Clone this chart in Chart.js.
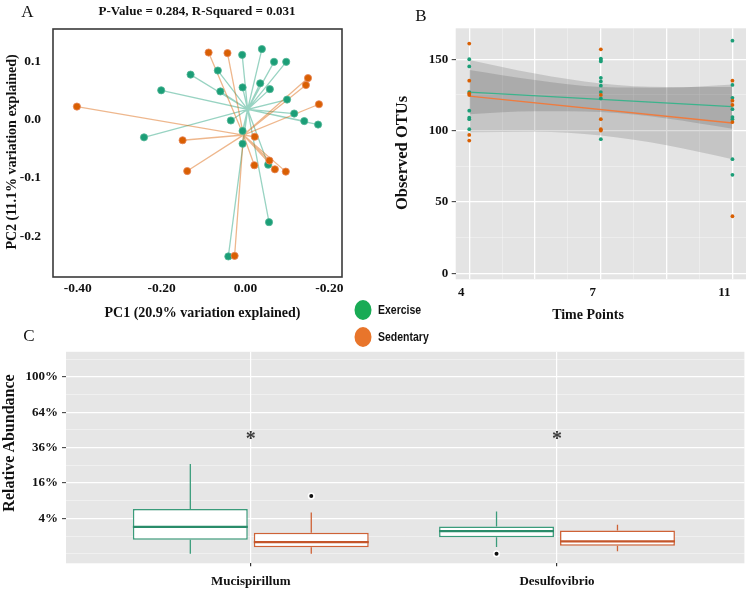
<!DOCTYPE html>
<html>
<head>
<meta charset="utf-8">
<script src="https://cdn.jsdelivr.net/npm/chart.js@4.4.0/dist/chart.umd.min.js"></script>
<style>
  html, body { margin: 0; padding: 0; background: #fff; }
  #fig { position: relative; width: 750px; height: 591px; overflow: hidden;
         font-family: 'Liberation Serif', 'Times New Roman', Times, serif; color: #111; }
  #fig canvas { position: absolute; }
  .lbl { position: absolute; white-space: nowrap; line-height: 1; transform: translate(-50%, -50%); }
  .rot { transform: translate(-50%, -50%) rotate(-90deg); }
  .b { font-weight: bold; }
  .tag { font-size: 17px; }
  .key { position: absolute; width: 17px; height: 20px; border-radius: 50%; transform: translate(-50%, -50%); }
  .keytxt { position: absolute; line-height: 1; white-space: nowrap; transform-origin: left center;
            transform: translateY(-50%) scaleX(0.84); font-weight: bold; font-size: 12.5px;
            font-family: 'Liberation Sans Narrow', 'Liberation Sans', Arial, sans-serif; }
</style>
</head>
<body>
<div id="fig">
  <canvas id="chartA" width="350" height="330" style="left:0;top:0"></canvas>
  <canvas id="chartB" width="370" height="330" style="left:380px;top:0"></canvas>
  <canvas id="chartC" width="750" height="251" style="left:0;top:340px"></canvas>

  <div class="lbl tag" style="left:27.5px;top:11px">A</div>
  <div class="lbl b" style="left:197px;top:10px;font-size:13px">P-Value = 0.284, R-Squared = 0.031</div>
  <div class="lbl b rot" style="left:12px;top:152px;font-size:14px">PC2 (11.1% variation explained)</div>
  <div class="lbl b" style="left:202.5px;top:313px;font-size:14px">PC1 (20.9% variation explained)</div>

  <div class="lbl tag" style="left:421px;top:15px">B</div>
  <div class="lbl b rot" style="left:402px;top:153px;font-size:16.5px">Observed OTUs</div>
  <div class="lbl b" style="left:588px;top:315px;font-size:14px">Time Points</div>

  <div class="lbl tag" style="left:29px;top:334.5px">C</div>
  <div class="lbl b rot" style="left:9px;top:442.5px;font-size:16px">Relative Abundance</div>

  <div class="key" style="left:363px;top:310px;background:#19ab55"></div>
  <div class="keytxt" style="left:378px;top:310px">Exercise</div>
  <div class="key" style="left:363px;top:336.5px;background:#e8752b"></div>
  <div class="keytxt" style="left:378px;top:336.5px">Sedentary</div>
</div>

<script>
// ---------- data ----------
// A: PCoA, one point per sample, spokes to the group centroid
const pcaExerciseX = [-0.008, 0.039, 0.068, 0.097, -0.131, -0.066, -0.201, -0.060, -0.007, 0.035, 0.058,
                      0.099, 0.116, 0.140, 0.173, -0.035, -0.242, -0.007, -0.007, 0.054, 0.056, -0.041];
const pcaExerciseY = [0.112, 0.122, 0.100, 0.100, 0.078, 0.085, 0.051, 0.049, 0.056, 0.063, 0.053,
                      0.035, 0.011, -0.002, -0.008, -0.001, -0.030, -0.019, -0.041, -0.077, -0.176, -0.235];
const pcaSedentaryX = [-0.088, -0.043, -0.402, 0.149, 0.144, 0.175, -0.150, -0.139, 0.022, 0.021, 0.057, 0.070, 0.096, -0.026];
const pcaSedentaryY = [0.116, 0.115, 0.023, 0.072, 0.060, 0.027, -0.035, -0.088, -0.029, -0.078, -0.070, -0.085, -0.089, -0.234];
const exerciseCentroid = [0.005, 0.018];
const sedentaryCentroid = [-0.005, -0.026];
const pcaXTicks = [-0.4, -0.2, 0, 0.2];
const pcaXTickLabels = ['-0.40', '-0.20', '0.00', '-0.20'];
const pcaYTicks = [-0.2, -0.1, 0, 0.1];

// B: observed OTUs per time point
const timeLabels = ['4', '7', '11'];
const timePositions = [1, 2, 3];
const timeGrid = [1, 1.25, 1.5, 1.75, 2, 2.25, 2.5, 2.75, 3];
const otuGrid = [0, 25, 50, 75, 100, 125, 150];
const otuExercise = [
  [150, 145, 127, 114, 109, 108, 101],
  [150.5, 149.5, 148.5, 137, 134.5, 131.5, 127, 122.5, 94],
  [163, 132, 123, 115, 109.5, 108, 80, 69]
];
const otuSedentary = [
  [161, 135, 126, 125, 97, 93],
  [157, 125, 108, 101, 100],
  [135, 121, 118, 106, 40]
];
const fitExercise = [127, 116.8];
const fitSedentary = [124.2, 105.3];
const ciPositions = [1, 1.5, 2, 2.5, 3];
const ciExerciseUpper = [142.5, 135.5, 130.5, 130, 132.3];
const ciExerciseLower = [111.5, 113.5, 113, 108.5, 101.3];
const ciSedentaryUpper = [149.5, 140, 133, 130.5, 130.6];
const ciSedentaryLower = [98.9, 99.2, 96.5, 89.7, 80];

// C: relative abundance (percent), sqrt axis
const genera = ['Mucispirillum', 'Desulfovibrio'];
const exMin = [0, 0.14], exQ1 = [0.63, 0.88], exMed = [2.3, 1.62], exQ3 = [6.4, 2.36], exMax = [25.7, 5.7];
const sedMin = [0, 0.02], sedQ1 = [0.13, 0.21], sedMed = [0.43, 0.49], sedQ3 = [1.4, 1.72], sedMax = [5.45, 2.7];
const exOutliers = [[], [0]];
const sedOutliers = [[10.6], []];
const signifPct = [44, 44];
const abundanceGridPct = [0, 1, 4, 9, 16, 25, 36, 49, 64, 81, 100, 121];
const abundanceLabelPct = [4, 16, 36, 64, 100];

// ---------- helpers ----------
const GREEN = '#1b9e77', ORANGE = '#d95f02';
const SERIF = "'Liberation Serif', 'Times New Roman', Times, serif";
const tickFont = size => ({ family: SERIF, size: size, weight: 'bold' });
const fixW = w => s => { s.width = w; };
const fixH = h => s => { s.height = h; };
const setTicks = vals => s => { s.ticks = vals.map(v => ({ value: v })); };
const xy = (xs, ys) => xs.map((x, i) => ({ x: x, y: ys[i] }));
const spokes = (xs, ys, c) => xs.flatMap((x, i) => [{ x: x, y: ys[i] }, { x: c[0], y: c[1] }]);
const toS = p => Math.sqrt(p / 100);

const panelBg = color => ({
  id: 'panelBg',
  beforeDraw(c) {
    const a = c.chartArea;
    c.ctx.save();
    c.ctx.fillStyle = color;
    c.ctx.fillRect(a.left, a.top, a.width, a.height);
    c.ctx.restore();
  }
});

const frame = {
  id: 'frame',
  afterDraw(c) {
    const a = c.chartArea;
    c.ctx.save();
    c.ctx.strokeStyle = '#3a3a3a';
    c.ctx.lineWidth = 1.6;
    c.ctx.strokeRect(a.left, a.top, a.width, a.height);
    c.ctx.restore();
  }
};

const base = {
  responsive: false,
  animation: false,
  plugins: { legend: { display: false }, tooltip: { enabled: false } }
};

// ---------- A ----------
new Chart(document.getElementById('chartA'), {
  type: 'scatter',
  data: {
    datasets: [
      { data: xy(pcaSedentaryX, pcaSedentaryY), backgroundColor: ORANGE, borderColor: '#e7875a',
        borderWidth: 0.8, pointRadius: 3.6, order: 0 },
      { data: xy(pcaExerciseX, pcaExerciseY), backgroundColor: GREEN, borderColor: '#52b595',
        borderWidth: 0.8, pointRadius: 3.6, order: 1 },
      { data: spokes(pcaSedentaryX, pcaSedentaryY, sedentaryCentroid), showLine: true, pointRadius: 0,
        borderColor: 'rgba(217,95,2,0.45)', borderWidth: 1.3, order: 2 },
      { data: spokes(pcaExerciseX, pcaExerciseY, exerciseCentroid), showLine: true, pointRadius: 0,
        borderColor: 'rgba(27,158,119,0.45)', borderWidth: 1.3, order: 3 }
    ]
  },
  options: {
    ...base,
    layout: { padding: { top: 29, right: 8, left: 0, bottom: 0 } },
    scales: {
      x: {
        type: 'linear', bounds: 'data', min: -0.459, max: 0.23,
        afterFit: fixH(53), afterBuildTicks: setTicks(pcaXTicks),
        grid: { display: false, drawTicks: false }, border: { display: false },
        ticks: { padding: 3, color: '#111', font: tickFont(13.5), autoSkip: false, maxRotation: 0,
                 callback: (v, i) => pcaXTickLabels[i] }
      },
      y: {
        type: 'linear', bounds: 'data', min: -0.2704, max: 0.1565,
        afterFit: fixW(53), afterBuildTicks: setTicks(pcaYTicks),
        grid: { display: false, drawTicks: false }, border: { display: false },
        ticks: { padding: 12, color: '#111', font: tickFont(13.5), autoSkip: false,
                 callback: v => v.toFixed(1) }
      }
    }
  },
  plugins: [frame]
});

// ---------- B ----------
const halfStep = v => Math.abs(v * 2 - Math.round(v * 2)) < 1e-6;
const fifty = v => Math.abs(v / 50 - Math.round(v / 50)) < 1e-6;
const otuPoints = groups => groups.flatMap((vals, i) => vals.map(v => ({ x: timePositions[i], y: v })));
const ends = [timePositions[0], timePositions[timePositions.length - 1]];

const dsB = [
  { data: otuPoints(otuSedentary), backgroundColor: ORANGE, borderWidth: 0, pointRadius: 1.9, order: 0 },
  { data: otuPoints(otuExercise), backgroundColor: GREEN, borderWidth: 0, pointRadius: 1.9, order: 1 },
  { type: 'line', data: xy(ends, fitSedentary), borderColor: '#ef7b3e', borderWidth: 1.4, pointRadius: 0, order: 2 },
  { type: 'line', data: xy(ends, fitExercise), borderColor: '#3bb38c', borderWidth: 1.4, pointRadius: 0, order: 3 },
  { type: 'line', data: xy(ciPositions, ciExerciseUpper), fill: 5, backgroundColor: 'rgba(40,38,38,0.16)',
    borderWidth: 0, pointRadius: 0, cubicInterpolationMode: 'monotone', order: 4 },
  { type: 'line', data: xy(ciPositions, ciExerciseLower), fill: false,
    borderWidth: 0, pointRadius: 0, cubicInterpolationMode: 'monotone', order: 5 },
  { type: 'line', data: xy(ciPositions, ciSedentaryUpper), fill: 7, backgroundColor: 'rgba(40,38,38,0.16)',
    borderWidth: 0, pointRadius: 0, cubicInterpolationMode: 'monotone', order: 6 },
  { type: 'line', data: xy(ciPositions, ciSedentaryLower), fill: false,
    borderWidth: 0, pointRadius: 0, cubicInterpolationMode: 'monotone', order: 7 }
];

new Chart(document.getElementById('chartB'), {
  type: 'scatter',
  data: { datasets: dsB },
  options: {
    ...base,
    layout: { padding: { top: 28.3, right: 2, left: 0, bottom: 0 } },
    scales: {
      x: {
        type: 'linear', bounds: 'data', min: 0.897, max: 3.103,
        afterFit: fixH(50.7), afterBuildTicks: setTicks(timeGrid),
        grid: { drawTicks: false,
                color: c => (c.tick && halfStep(c.tick.value)) ? '#ffffff' : 'rgba(255,255,255,0.6)',
                lineWidth: c => (c.tick && halfStep(c.tick.value)) ? 1.3 : 0.6 },
        border: { display: false },
        ticks: { padding: 6, labelOffset: -8, color: '#111', font: tickFont(13), autoSkip: false, maxRotation: 0,
                 callback: v => { const k = timePositions.indexOf(v); return k >= 0 ? timeLabels[k] : ''; } }
      },
      y: {
        type: 'linear', bounds: 'data', min: -4.2, max: 171.7,
        afterFit: fixW(75.7), afterBuildTicks: setTicks(otuGrid),
        grid: { drawTicks: true, tickLength: 4, tickWidth: 1,
                tickColor: c => (c.tick && fifty(c.tick.value)) ? '#333' : 'rgba(0,0,0,0)',
                color: c => (c.tick && fifty(c.tick.value)) ? '#ffffff' : 'rgba(255,255,255,0.6)',
                lineWidth: c => (c.tick && fifty(c.tick.value)) ? 1.3 : 0.6 },
        border: { display: false },
        ticks: { padding: 3.5, color: '#111', font: tickFont(13), autoSkip: false,
                 callback: v => fifty(v) ? String(v) : '' }
      }
    }
  },
  plugins: [panelBg('#e4e4e4')]
});

// ---------- C ----------
const DODGE = 0.79, BAR_FILL = 0.95;
const offEx = -DODGE / 4, offSed = DODGE / 4, halfBox = DODGE / 4 * BAR_FILL;

const boxes = (q1, q3) => genera.map((g, i) => ({ x: i + 1, y: [toS(q1[i]), toS(q3[i])] }));
const whiskers = (mn, q1, q3, mx, off) => genera.flatMap((g, i) => {
  const x = i + 1 + off;
  return [{ x: x, y: toS(mx[i]) }, { x: x, y: toS(q3[i]) }, { x: x, y: null },
          { x: x, y: toS(q1[i]) }, { x: x, y: toS(mn[i]) }, { x: x, y: null }];
});
const medians = (md, off) => genera.flatMap((g, i) => {
  const x = i + 1 + off;
  return [{ x: x - halfBox, y: toS(md[i]) }, { x: x + halfBox, y: toS(md[i]) }, { x: x, y: null }];
});
const outliers = (lists, off) => lists.flatMap((vals, i) => vals.map(v => ({ x: i + 1 + off, y: toS(v) })));
const labelled = v => abundanceLabelPct.includes(Math.round(v * v * 100)) && v > 0;

const stars = {
  id: 'stars',
  afterDatasetsDraw(c) {
    const ctx = c.ctx;
    ctx.save();
    ctx.fillStyle = '#3a3a3a';
    ctx.font = 'bold 20px ' + SERIF;
    ctx.textAlign = 'center';
    ctx.textBaseline = 'middle';
    signifPct.forEach((p, i) => {
      ctx.fillText('*', c.scales.x.getPixelForValue(i + 1), c.scales.y.getPixelForValue(toS(p)) + 3);
    });
    ctx.restore();
  }
};

new Chart(document.getElementById('chartC'), {
  type: 'bar',
  data: {
    datasets: [
      { type: 'bar', data: boxes(exQ1, exQ3), backgroundColor: '#ffffff', borderColor: '#3a9c7b', borderWidth: 1.5,
        borderSkipped: false, categoryPercentage: DODGE, barPercentage: BAR_FILL, order: 5 },
      { type: 'bar', data: boxes(sedQ1, sedQ3), backgroundColor: '#ffffff', borderColor: '#cf6236', borderWidth: 1.5,
        borderSkipped: false, categoryPercentage: DODGE, barPercentage: BAR_FILL, order: 6 },
      { type: 'line', data: whiskers(exMin, exQ1, exQ3, exMax, offEx), borderColor: '#3a9c7b', borderWidth: 1.3,
        pointRadius: 0, spanGaps: false, fill: false, order: 3 },
      { type: 'line', data: whiskers(sedMin, sedQ1, sedQ3, sedMax, offSed), borderColor: '#cf6236', borderWidth: 1.3,
        pointRadius: 0, spanGaps: false, fill: false, order: 4 },
      { type: 'line', data: medians(exMed, offEx), borderColor: '#2a8c6a', borderWidth: 2.2,
        pointRadius: 0, spanGaps: false, fill: false, order: 1 },
      { type: 'line', data: medians(sedMed, offSed), borderColor: '#c4552a', borderWidth: 2.2,
        pointRadius: 0, spanGaps: false, fill: false, order: 2 },
      { type: 'scatter', data: outliers(exOutliers, offEx).concat(outliers(sedOutliers, offSed)),
        pointRadius: 2.8, backgroundColor: '#111', borderColor: '#ffffff', borderWidth: 1.6, order: 0 }
    ]
  },
  options: {
    ...base,
    layout: { padding: { top: 9, right: 0, left: 0, bottom: 0 } },
    scales: {
      x: {
        type: 'linear', bounds: 'data', min: 0.3965, max: 2.612, offset: false,
        afterFit: fixH(27.7), afterBuildTicks: setTicks([1, 2]),
        grid: { offset: false, color: '#ffffff', lineWidth: 1.2, drawTicks: true, tickLength: 3, tickColor: '#333' },
        border: { display: false },
        ticks: { padding: 8, color: '#111', font: tickFont(13), autoSkip: false, maxRotation: 0,
                 callback: v => genera[Math.round(v) - 1] || '' }
      },
      y: {
        type: 'linear', bounds: 'data', min: -0.054, max: 1.141, beginAtZero: false,
        afterFit: fixW(66), afterBuildTicks: setTicks(abundanceGridPct.map(toS)),
        grid: { drawTicks: true, tickLength: 4, tickWidth: 1,
                tickColor: c => (c.tick && labelled(c.tick.value)) ? '#333' : 'rgba(0,0,0,0)',
                color: c => (c.tick && labelled(c.tick.value)) ? '#ffffff' : 'rgba(255,255,255,0.6)',
                lineWidth: c => (c.tick && labelled(c.tick.value)) ? 1.3 : 0.7 },
        border: { display: false },
        ticks: { padding: 4, color: '#111', font: tickFont(13), autoSkip: false,
                 callback: v => labelled(v) ? Math.round(v * v * 100) + '%' : '' }
      }
    }
  },
  plugins: [panelBg('#e6e6e6'), stars]
});
</script>
</body>
</html>
